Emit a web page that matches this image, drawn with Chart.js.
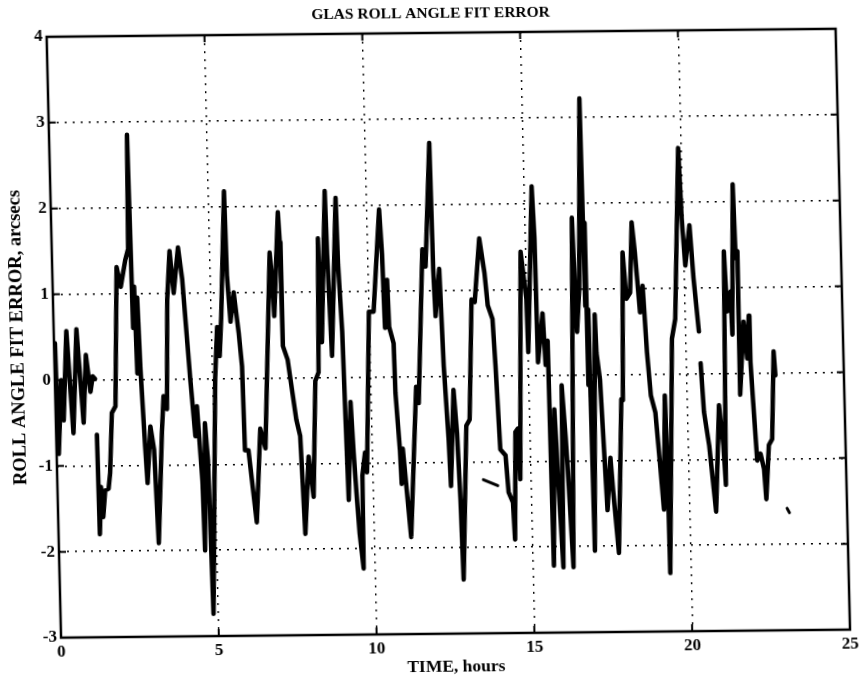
<!DOCTYPE html>
<html>
<head>
<meta charset="utf-8">
<script src="https://cdn.jsdelivr.net/npm/chart.js@4/dist/chart.umd.min.js"></script>
<style>
  html, body { margin: 0; padding: 0; background: #fff; }
  #wrap { width: 862px; height: 681px; overflow: hidden; background: #fff; }
  /* the scanned original is slightly sheared */
  #myChart { transform: matrix(1, -0.0102, 0.024, 1, 0, 0); transform-origin: 431px 340px; }
</style>
</head>
<body>
<div id="wrap"><canvas id="myChart" width="862" height="681"></canvas></div>
<script>
// time in hours, roll angle fit error in arcsecs (null = break in the trace)
const timeHours = [
	0.03, 0.07, 0.2, 0.25, 0.4, 0.55, 0.72, 0.88, 1.0, 1.12, 1.2, 1.27,
	1.28,
	1.29, 1.31, 1.38, 1.43, 1.51, 1.62, 1.68, 1.78, 1.9, 2.04, 2.16, 2.32, 2.42, 2.47, 2.5, 2.52,
	2.58, 2.62, 2.67, 2.72, 2.81, 2.86, 2.99, 3.09, 3.17, 3.35, 3.43, 3.53, 3.62, 3.73, 3.83, 4.0,
	4.11, 4.29, 4.41, 4.48, 4.6, 4.63, 4.72, 4.79, 4.85, 5.08, 5.18, 5.24, 5.32, 5.5, 5.53, 5.61,
	5.73, 5.86, 5.94, 5.97, 6.08, 6.13, 6.29, 6.47, 6.62, 6.9, 6.96, 7.0, 7.19, 7.23, 7.25, 7.39,
	7.62, 7.73, 7.82, 7.98, 8.11, 8.25, 8.36, 8.44, 8.49, 8.69, 8.72, 8.8, 9.03, 9.06, 9.14, 9.18,
	9.22, 9.35, 9.41, 9.47, 9.54, 9.64, 9.67, 9.77, 9.82, 10.0, 10.15, 10.4, 10.46, 10.5, 10.6,
	10.63, 10.76, 10.78, 10.88, 10.91, 10.97, 11.05, 11.17, 11.44, 11.51, 11.74, 11.83, 12.04,
	12.07, 12.11, 12.26, 12.33, 12.43, 12.47, 12.62, 12.7, 12.76, 12.8, 13.0, 13.11, 13.26, 13.36,
	13.55, 13.69, 13.77, 13.91, 13.97, 14.06, 14.22, 14.29, 14.42, 14.46, 14.55, 14.63, 14.67,
	14.85, 15.0, 15.02, 15.25, 15.3, 15.32, 15.5, 15.56, 15.64, 15.67, 15.8, 15.88, 15.97, 16.05,
	16.14, 16.2, 16.29, 16.5, 16.58, 16.68, 16.83, 16.86, 16.9, 16.9, 16.95, 16.98, 17.15, 17.18,
	17.27, 17.37, 17.41, 17.54, 17.6, 17.74, 17.93, 17.98, 18.08, 18.17, 18.29, 18.39, 18.47,
	18.59, 18.69, 18.78, 18.87, 19.0, 19.12, 19.2, 19.31, 19.34, 19.35, 19.58, 19.7, 19.92, 19.98,
	20.06, 20.22, 20.31, 20.44,
	20.45,
	20.47, 20.54, 20.68, 20.85, 21.02, 21.13, 21.18, 21.29, 21.35, 21.47, 21.5, 21.62, 21.66,
	21.72, 21.7, 21.86, 21.95, 22.03, 22.05, 22.1, 22.19, 22.3, 22.4, 22.45, 22.57, 22.68, 22.79,
	22.83
];
const rollError = [
	0.43, -0.86, 0.0, -0.47, 0.57, -0.62, 0.59, -0.5, 0.29, -0.14, 0.04, 0.01,
	null,
	-0.64, -1.8, -1.25, -1.6, -1.29, -1.27, -1.09, -0.39, -0.31, 1.31, 1.08, 1.39, 1.52, 2.85, 1.5, 0.6,
	1.08, 0.07, 0.95, 0.12, -0.78, -1.21, -0.55, -0.82, -1.91, -0.63, -0.2, -0.35, 0.92, 1.49, 1.0, 1.53,
	1.16, 0.0, -0.67, -0.32, -1.2, -2.0, -0.52, -0.95, -2.74, 0.0, 0.6, 0.26, 0.73, 2.18, 1.2, 0.66,
	1.0, 0.53, 0.14, -0.84, -0.84, -1.04, -1.68, -0.59, -0.82, 1.46, 1.15, 0.72, 1.93, 1.58, 0.37, 0.21,
	-0.49, -0.68, -1.82, -0.92, -1.39, -0.04, 0.06, 1.62, 0.41, 2.17, 1.43, 0.25, 2.09, 1.31, 0.53, -0.49,
	-1.43, -0.29, -0.88, -1.35, -1.82, -2.23, -1.15, -0.88, -1.11, 0.76, 0.76, 1.95, 1.43, 0.57, 1.13,
	0.58, 0.39, -0.19, -0.86, -1.25, -0.84, -1.25, -1.87, -0.12, -0.31, 1.48, 1.28, 2.72,
	1.25, 0.7, 1.25, 0.12, -0.74, -1.28, -0.16, -0.66, -1.44, -2.37, -0.58, -0.51, 0.89, 0.86,
	1.6, 1.2, 0.82, 0.66, 0.12, -0.86, -0.93, -1.36, -1.48, -1.91, -0.66, -0.62, -1.21,
	1.44, 0.89, 0.27, 2.2, 1.6, 0.15, 0.72, 0.12, 0.4, -2.22, -0.4, -1.3, -2.24, -0.12,
	-0.74, -1.28, -2.24, 1.83, 0.5, 1.0, 3.22, 0.8, 1.77, -0.12, 0.76, -2.05, 0.7, 0.25,
	-0.06, -1.15, -1.58, -0.97, -1.34, -2.08, -0.29, -0.3, 1.42, 0.88, 0.95, 1.77, 1.42,
	0.72, 1.03, 0.25, -0.25, -0.45, -1.11, -1.58, -0.25, -1.07, -2.32, 0.41, 0.64, 2.63, 1.81,
	1.26, 1.73, 1.11, 0.49,
	null,
	0.12, -0.45, -0.84, -1.61, -0.37, -0.84, -1.3, 1.42, 0.72, 0.95, 0.45, 2.2, 1.34,
	1.42, -0.25, 0.6, 0.17, 0.67, 0.13, -0.3, -1.02, -0.94, -1.12, -1.47, -0.84, -0.77, 0.25,
	-0.03
];
// two stray bits of trace
const dashHours = [13.5, 13.95];
const dashError = [-1.21, -1.28];
const dotHours = [23.1, 23.17];
const dotError = [-1.58, -1.63];

const xTicks = [0, 5, 10, 15, 20, 25];
const yTicks = [-3, -2, -1, 0, 1, 2, 3, 4];
const chartTitle = 'GLAS ROLL ANGLE FIT ERROR';

const serif = "'Liberation Serif', 'DejaVu Serif', serif";

function pts(xs, ys) {
	return xs.map(function(x, i) { return { x: x, y: ys[i] }; });
}

// solid box with inward tick marks, drawn over the plot like the original,
// plus the title (placed by hand, it sits a bit right of the canvas centre)
const frame = {
	id: 'frame',
	afterDraw: function(chart) {
		const c = chart.ctx, a = chart.chartArea;
		const sx = chart.scales.x, sy = chart.scales.y;
		c.save();
		c.strokeStyle = '#000';
		c.lineWidth = 2;
		xTicks.forEach(function(v) {
			const px = sx.getPixelForValue(v);
			c.beginPath();
			c.moveTo(px, a.bottom); c.lineTo(px, a.bottom - 7);
			c.moveTo(px, a.top); c.lineTo(px, a.top + 7);
			c.stroke();
		});
		yTicks.forEach(function(v) {
			const py = sy.getPixelForValue(v);
			c.beginPath();
			c.moveTo(a.left, py); c.lineTo(a.left + 7, py);
			c.moveTo(a.right, py); c.lineTo(a.right - 7, py);
			c.stroke();
		});
		c.lineWidth = 2.5;
		c.strokeRect(a.left, a.top, a.right - a.left, a.bottom - a.top);

		c.fillStyle = '#000';
		c.font = 'bold 15.5px ' + serif;
		c.textAlign = 'center';
		c.textBaseline = 'middle';
		c.fillText(chartTitle, (a.left + a.right) / 2 - 10, a.top - 19);
		c.restore();
	}
};

const lineStyle = {
	borderColor: '#000',
	backgroundColor: '#000',
	borderWidth: 4.5,
	pointRadius: 0,
	tension: 0,
	spanGaps: false,
	borderJoinStyle: 'round',
	borderCapStyle: 'round'
};

var ctx = document.getElementById('myChart').getContext('2d');
var myChart = new Chart(ctx, {
	type: 'line',
	data: {
		datasets: [
			Object.assign({ label: 'fit error', data: pts(timeHours, rollError) }, lineStyle),
			Object.assign({ label: 'dash', data: pts(dashHours, dashError) }, lineStyle, { borderWidth: 3 }),
			Object.assign({ label: 'dot', data: pts(dotHours, dotError) }, lineStyle, { borderWidth: 3 })
		]
	},
	options: {
		responsive: false,
		animation: false,
		layout: { padding: { left: 0, right: 19, top: 33, bottom: 0 } },
		plugins: {
			legend: { display: false },
			tooltip: { enabled: false },
			title: { display: false }
		},
		scales: {
			x: {
				type: 'linear',
				min: 0,
				max: 25,
				afterBuildTicks: function(s) { s.ticks = xTicks.map(function(v) { return { value: v }; }); },
				afterFit: function(s) { s.height = 47; },
				ticks: {
					color: '#000',
					padding: 4,
					maxRotation: 0,
					font: { family: serif, size: 17, weight: 'bold' },
					callback: function(v) { return String(v); }
				},
				grid: { color: '#000', lineWidth: 1.4, drawTicks: false },
				border: { display: false, dash: [2, 6] },
				title: {
					display: true,
					text: 'TIME, hours',
					color: '#000',
					font: { family: serif, size: 17.5, weight: 'bold' },
					padding: { top: 0, bottom: 3 }
				}
			},
			y: {
				type: 'linear',
				min: -3,
				max: 4,
				afterBuildTicks: function(s) { s.ticks = yTicks.map(function(v) { return { value: v }; }); },
				afterFit: function(s) { s.width = 54; },
				ticks: {
					color: '#000',
					padding: 4,
					font: { family: serif, size: 17, weight: 'bold' },
					callback: function(v) { return String(v); }
				},
				grid: { color: '#000', lineWidth: 1.4, drawTicks: false },
				border: { display: false, dash: [2, 6] },
				title: {
					display: true,
					text: 'ROLL ANGLE FIT ERROR, arcsecs',
					color: '#000',
					font: { family: serif, size: 18.5, weight: 'bold' },
					padding: { top: 7, bottom: 0 }
				}
			}
		}
	},
	plugins: [frame]
});
</script>
</body>
</html>
